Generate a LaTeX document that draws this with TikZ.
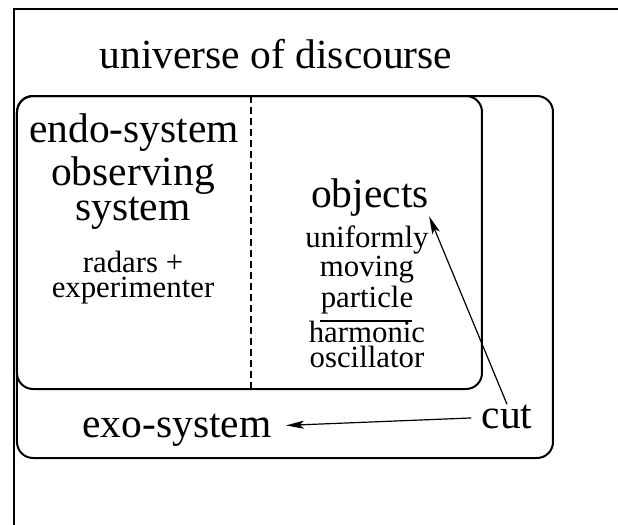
\documentclass[tikz,border=0pt]{standalone}
\usepackage{fontspec}
\setmainfont{Liberation Serif}
\usetikzlibrary{arrows.meta}

\begin{document}
\begin{tikzpicture}[x=0.5pt,y=-0.5pt,
  bigtxt/.style={font=\fontsize{20.75}{14}\selectfont, inner sep=0pt, anchor=base, align=center},
  smalltxt/.style={font=\fontsize{15.4}{12.5}\selectfont, inner sep=0pt, anchor=base, align=center},
  frame/.style={line width=1pt},
  cutarrow/.style={-{Stealth[length=9pt,width=4pt,inset=2pt]}, line width=0.6pt}]
\useasboundingbox (0,0) rectangle (618,525);
% universe of discourse
\draw [frame] (618,9) -- (14,9) -- (14,525);
\node [bigtxt] (universe) at (276,68) {universe of discourse};
% exo-system and endo-system
\draw [frame, rounded corners=8pt] (17,96) rectangle (553,458);
\draw [frame, rounded corners=8pt] (17,96) rectangle (482,389);
\draw [line width=0.8pt, dash pattern=on 3.5pt off 2pt] (251,96) -- (251,389);
\node [bigtxt] (endo) at (134,142) {endo-system};
\node [bigtxt] (observing) at (133,220) {observing\\system};
\node [smalltxt] (radars) at (133,297) {radars +\\experimenter};
\node [bigtxt] (objects) at (370,207) {objects};
\node [smalltxt] (particle) at (367,307) {uniformly\\moving\\particle};
\draw [line width=0.6pt] (320,321) -- (412,321);
\node [smalltxt] (oscillator) at (367,367) {harmonic\\oscillator};
\node [bigtxt] (exo) at (177,437) {exo-system};
\node [bigtxt] (cut) at (507,428) {cut};
% the cut
\draw [cutarrow] (cut.north) -- (objects.south east);
\draw [cutarrow, shorten <=5pt, shorten >=7pt] (cut) -- (exo);
\end{tikzpicture}
\end{document}
